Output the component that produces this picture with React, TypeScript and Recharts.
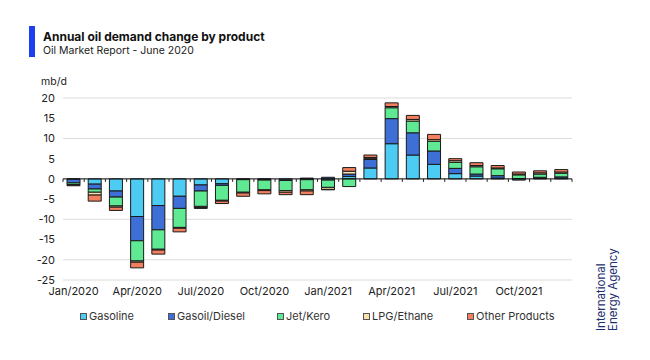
import { BarChart, Bar, XAxis, YAxis, CartesianGrid, ReferenceLine } from 'recharts';

const months = [
  'Jan/2020', 'Feb/2020', 'Mar/2020', 'Apr/2020', 'May/2020', 'Jun/2020',
  'Jul/2020', 'Aug/2020', 'Sep/2020', 'Oct/2020', 'Nov/2020', 'Dec/2020',
  'Jan/2021', 'Feb/2021', 'Mar/2021', 'Apr/2021', 'May/2021', 'Jun/2021',
  'Jul/2021', 'Aug/2021', 'Sep/2021', 'Oct/2021', 'Nov/2021', 'Dec/2021',
];

const gasoline = [-0.1, -1.3, -3.0, -9.3, -6.6, -4.3, -1.5, -1.2, -0.1, -0.1, -0.3, 0.2, -0.3, 0.6, 2.7, 8.7, 5.9, 3.6, 1.3, 0.7, 0.2, -0.3, 0.1, 0.2];
const gasoil = [-0.9, -1.2, -1.5, -6.0, -6.0, -3.0, -1.5, -0.4, -0.1, -0.2, -0.1, -0.2, 0.4, 0.6, 2.1, 6.2, 5.5, 3.3, 1.3, 0.5, 0.6, 0.1, 0.3, 0.3];
const jetKero = [-0.4, -0.8, -2.2, -5.0, -4.8, -4.7, -3.8, -3.7, -3.1, -2.4, -2.5, -2.5, -1.8, -1.9, 0.2, 2.7, 2.9, 2.4, 1.5, 1.8, 1.7, 0.9, 0.8, 0.9];
const lpgEthane = [-0.1, -0.7, -0.3, -0.3, -0.2, -0.2, -0.3, -0.2, -0.2, -0.2, -0.4, -0.3, -0.5, 0.7, 0.3, 0.3, 0.4, 0.4, 0.4, 0.3, 0.2, 0.2, 0.3, 0.3];
const otherProducts = [-0.2, -1.5, -0.8, -1.4, -1.0, -0.9, -0.2, -0.6, -0.8, -0.8, -0.6, -0.9, -0.1, 0.9, 0.6, 0.9, 1.0, 1.3, 0.5, 0.7, 0.6, 0.5, 0.5, 0.6];

const yTicks = [-25, -20, -15, -10, -5, 0, 5, 10, 15, 20];

const series = [
  { key: 'gasoline', name: 'Gasoline', color: '#4ccbf3' },
  { key: 'gasoil', name: 'Gasoil/Diesel', color: '#3d6fd6' },
  { key: 'jetKero', name: 'Jet/Kero', color: '#5fe992' },
  { key: 'lpgEthane', name: 'LPG/Ethane', color: '#fbe1ad' },
  { key: 'otherProducts', name: 'Other Products', color: '#f2805f' },
];

const data = months.map((month, i) => ({
  month,
  gasoline: gasoline[i],
  gasoil: gasoil[i],
  jetKero: jetKero[i],
  lpgEthane: lpgEthane[i],
  otherProducts: otherProducts[i],
}));

const FONT = 'Inter, "Noto Sans", sans-serif';
const PLOT_TOP = 98;
const PLOT_H = 182;
const PLOT_W = 509;
const zeroY = PLOT_TOP + PLOT_H * (20 / 45);
const band = PLOT_W / months.length;

// labels every quarter, small tick marks on the zero line at the band edges
function MonthTick(props: any) {
  const { x, y, payload, index } = props;
  const left = x - band / 2;
  return (
    <g>
      <line x1={left} x2={left} y1={zeroY} y2={zeroY + 3} stroke="#222" />
      {index === months.length - 1 && (
        <line x1={left + band} x2={left + band} y1={zeroY} y2={zeroY + 3} stroke="#222" />
      )}
      {index % 3 === 0 && (
        <text x={x} y={y} dy="0.71em" textAnchor="middle" fontSize={11} fill="#222" fontFamily={FONT}>
          {payload.value}
        </text>
      )}
    </g>
  );
}

const legendPos = [80, 168, 277, 363, 467];

export default function App() {
  return (
    <div style={{ position: 'absolute', left: 0, top: 0, width: 650, height: 360, background: '#fff', fontFamily: FONT }}>
      <div style={{ position: 'absolute', left: 29, top: 26, width: 6, height: 31, background: '#1c3ff2' }} />
      <div style={{ position: 'absolute', left: 43, top: 29, fontSize: 12, fontWeight: 700, color: '#111', whiteSpace: 'nowrap' }}>
        Annual oil demand change by product
      </div>
      <div style={{ position: 'absolute', left: 43, top: 44, fontSize: 10.5, color: '#222', whiteSpace: 'nowrap' }}>
        Oil Market Report - June 2020
      </div>
      <div style={{ position: 'absolute', left: 41, top: 75, fontSize: 10.5, color: '#222' }}>mb/d</div>

      <div style={{ position: 'absolute', left: 0, top: 0 }}>
        <BarChart
          width={650}
          height={360}
          data={data}
          stackOffset="sign"
          margin={{ top: PLOT_TOP, right: 78, bottom: 50, left: 33 }}
        >
          <CartesianGrid vertical={false} stroke="#dcdcdc" />
          <XAxis
            dataKey="month"
            interval={0}
            axisLine={false}
            tickLine={false}
            tickMargin={1}
            height={30}
            tick={<MonthTick />}
          />
          <YAxis
            domain={[-25, 20]}
            ticks={yTicks}
            width={30}
            axisLine={false}
            tickLine={false}
            tickMargin={2}
            tick={{ fontSize: 11, fill: '#222', fontFamily: FONT }}
          />
          {series.map((s) => (
            <Bar
              key={s.key}
              dataKey={s.key}
              name={s.name}
              stackId="a"
              fill={s.color}
              stroke="#1a1a1a"
              strokeWidth={1}
              barSize={13}
              isAnimationActive={false}
            />
          ))}
          <ReferenceLine y={0} stroke="#111" strokeWidth={1} />
        </BarChart>
      </div>

      {series.map((s, i) => (
        <div
          key={s.key}
          style={{ position: 'absolute', left: legendPos[i], top: 309, display: 'flex', alignItems: 'center', fontSize: 11, color: '#333', whiteSpace: 'nowrap' }}
        >
          <span style={{ display: 'inline-block', width: 5, height: 5, background: s.color, border: '1px solid #555', marginRight: 2 }} />
          {s.name}
        </div>
      ))}

      <div
        style={{
          position: 'absolute',
          left: 595,
          top: 331,
          transform: 'rotate(-90deg)',
          transformOrigin: 'left top',
          fontSize: 11.5,
          lineHeight: '12px',
          color: '#1d2f6f',
          whiteSpace: 'nowrap',
        }}
      >
        International
        <br />
        Energy Agency
      </div>
    </div>
  );
}
